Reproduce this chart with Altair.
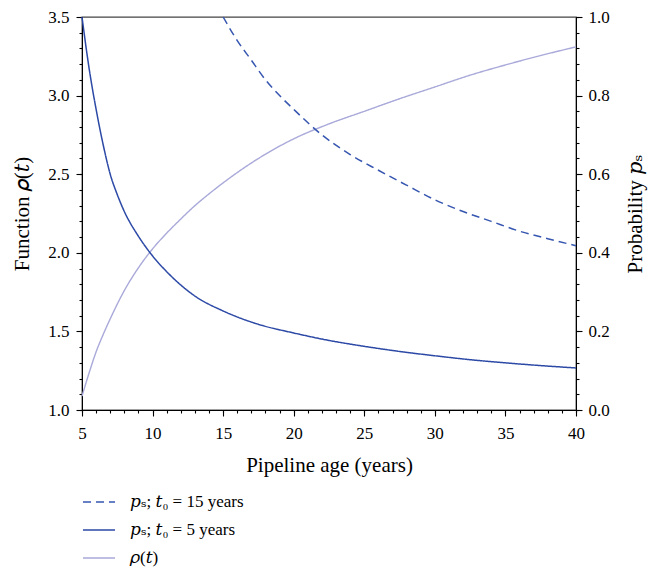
import altair as alt
import pandas as pd

# Survival probability p_s for inspection age t0 = 15 years
t_p15 = [15, 16, 17, 18, 19, 20, 22, 24, 26, 28, 30, 32, 34, 36, 38, 40]
p_15 = [1.0, 0.94, 0.89, 0.84, 0.80, 0.765, 0.70, 0.65, 0.61, 0.572,
        0.535, 0.505, 0.48, 0.455, 0.436, 0.418]

# Survival probability p_s for inspection age t0 = 5 years
t_p5 = [5, 5.5, 6, 6.5, 7, 7.5, 8, 9, 10, 11, 12, 13, 15, 17.5, 20, 22.5,
        25, 27.5, 30, 32.5, 35, 37.5, 40]
p_5 = [1.0, 0.87, 0.765, 0.675, 0.60, 0.548, 0.505, 0.442, 0.392, 0.352,
       0.318, 0.29, 0.252, 0.218, 0.196, 0.177, 0.162, 0.149, 0.138, 0.128,
       0.12, 0.113, 0.107]

# Function rho(t)
t_rho = [5, 5.5, 6, 6.5, 7, 8, 9, 10, 11, 12, 13, 14, 15, 17.5, 20, 22.5,
         25, 27.5, 30, 32.5, 35, 37.5, 40]
rho = [1.088, 1.235, 1.37, 1.48, 1.58, 1.76, 1.905, 2.025, 2.125, 2.215,
       2.30, 2.375, 2.445, 2.60, 2.725, 2.82, 2.90, 2.98, 3.055, 3.13,
       3.195, 3.255, 3.31]

# Series names (legend labels) and their styles
names = ["𝑝ₛ; 𝑡₀ = 15 years", "𝑝ₛ; 𝑡₀ = 5 years", "𝜌(𝑡)"]
colors = ["#3656b0", "#2c49a6", "#a9a9da"]
dashes = [[8, 5], [1, 0], [1, 0]]

# Axis ticks: labelled major ticks and unlabelled minor ticks
x_major = [5, 10, 15, 20, 25, 30, 35, 40]
x_minor = list(range(5, 41))
left_major = [1.0, 1.5, 2.0, 2.5, 3.0, 3.5]
left_minor = [round(1.0 + 0.1 * i, 2) for i in range(26)]
right_major = [0.0, 0.2, 0.4, 0.6, 0.8, 1.0]
right_minor = [round(0.04 * i, 2) for i in range(26)]

prob = pd.concat([
    pd.DataFrame({"t": t_p15, "value": p_15, "series": names[0]}),
    pd.DataFrame({"t": t_p5, "value": p_5, "series": names[1]}),
])
func = pd.DataFrame({"t": t_rho, "value": rho, "series": names[2]})

FONT = "Liberation Serif, DejaVu Serif, serif"
LABEL_SIZE = 17
TITLE_SIZE = 21
W, H = 494, 393
X_DOMAIN = [5, 40]
LEFT_DOMAIN = [1.0, 3.5]
RIGHT_DOMAIN = [0.0, 1.0]
MAJOR_TICK = 6
MINOR_TICK = 3


def legend():
    return alt.Legend(
        title=None, orient="none", legendX=0, legendY=471,
        direction="vertical", symbolType="stroke", symbolSize=1024,
        symbolStrokeWidth=1.5, labelFont=FONT, labelFontSize=17,
        labelColor="black", labelOffset=14, clipHeight=28, rowPadding=0,
        padding=0,
    )


color_enc = alt.Color("series:N", scale=alt.Scale(domain=names, range=colors), legend=legend())
dash_enc = alt.StrokeDash("series:N", scale=alt.Scale(domain=names, range=dashes), legend=legend())

base_axis = dict(
    labelFont=FONT, labelFontSize=LABEL_SIZE, labelColor="black",
    titleFont=FONT, titleFontSize=TITLE_SIZE, titleFontWeight="normal",
    titleColor="black", domainColor="black", domainWidth=1, ticks=True,
    tickColor="black", tickWidth=1.1, tickOpacity=1, labelOverlap=False,
    labelFlush=False, grid=False,
)


def major_axis(**kw):
    return alt.Axis(tickSize=MAJOR_TICK, format=".1f", **base_axis, **kw)


def minor_axis(**kw):
    return alt.Axis(tickSize=MINOR_TICK, labels=False, title=None, **base_axis, **kw)


x_scale = alt.Scale(domain=X_DOMAIN, nice=False)

x_major_enc = alt.X(
    "t:Q", scale=x_scale,
    axis=alt.Axis(
        tickSize=MAJOR_TICK, values=x_major, format="d", labelPadding=9,
        orient="bottom", title="Pipeline age (years)", titleY=61,
        titleBaseline="alphabetic", **base_axis,
    ),
)
x_minor_enc = alt.X("t:Q", scale=x_scale, axis=minor_axis(values=x_minor, orient="bottom"))
x_none = alt.X("t:Q", scale=x_scale, axis=None)

# rho(t) on the left scale, with the labelled bottom axis
rho_layer = alt.Chart(func).mark_line(strokeWidth=1.4, interpolate="monotone").encode(
    x=x_major_enc,
    y=alt.Y(
        "value:Q",
        scale=alt.Scale(domain=LEFT_DOMAIN, nice=False, zero=False),
        axis=major_axis(
            orient="left", values=left_major, labelPadding=7,
            title="Function 𝜌(𝑡)", titleX=-60, titleY=H / 2,
            titleAngle=270, titleBaseline="middle", titleAlign="center",
        ),
    ),
    color=color_enc,
    strokeDash=dash_enc,
)

# p_s curves on the right scale, with the minor ticks of the bottom axis
prob_layer = alt.Chart(prob).mark_line(strokeWidth=1.5, interpolate="monotone").encode(
    x=x_minor_enc,
    y=alt.Y(
        "value:Q",
        scale=alt.Scale(domain=RIGHT_DOMAIN, nice=False),
        axis=major_axis(
            orient="right", values=right_major, labelPadding=6,
            title="Probability 𝑝ₛ", titleX=59, titleY=H / 2,
            titleAngle=270, titleBaseline="middle", titleAlign="center",
        ),
    ),
    color=color_enc,
    strokeDash=dash_enc,
)

# Transparent layers that only carry the minor ticks of the two value axes
left_minor_layer = alt.Chart(func).mark_line(strokeOpacity=0).encode(
    x=x_none,
    y=alt.Y("value:Q", scale=alt.Scale(domain=LEFT_DOMAIN, nice=False, zero=False),
            axis=minor_axis(orient="left", values=left_minor)),
)
right_minor_layer = alt.Chart(prob).mark_line(strokeOpacity=0).encode(
    x=x_none,
    y=alt.Y("value:Q", scale=alt.Scale(domain=RIGHT_DOMAIN, nice=False),
            axis=minor_axis(orient="right", values=right_minor)),
)

chart = (
    alt.layer(left_minor_layer, right_minor_layer, rho_layer, prob_layer)
    .resolve_scale(y="independent")
    .resolve_axis(x="independent", y="independent")
    .properties(
        width=W, height=H,
        autosize=alt.AutoSizeParams(type="none"),
        padding={"left": 82, "top": 17, "right": 87, "bottom": 162},
        background="white",
    )
    .configure_view(stroke="#444444", strokeWidth=1.3)
)

chart.save("out.html", embed_options={"renderer": "svg", "actions": False})
